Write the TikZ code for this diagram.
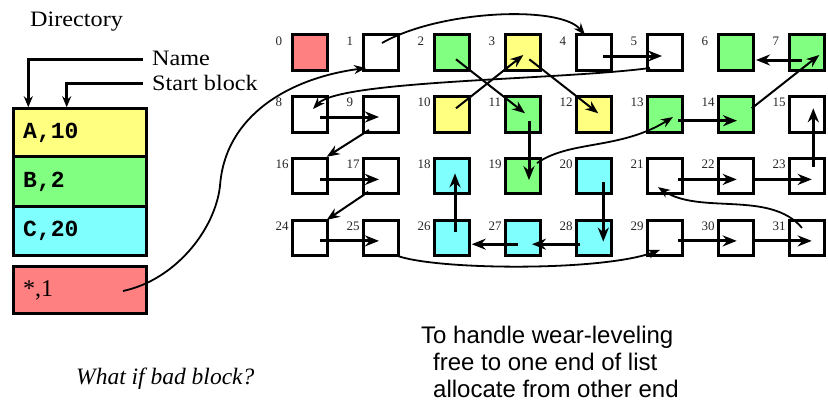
\documentclass[tikz,border=0pt]{standalone}
\usepackage{fontspec}
\setmainfont{Liberation Serif}
\newfontfamily\wserif[FakeStretch=1.1]{Liberation Serif}
\newfontfamily\lmono{Liberation Mono}
\newfontfamily\lsans{Liberation Sans}
\usetikzlibrary{arrows.meta,calc}
\definecolor{fy}{HTML}{FFFF80}
\definecolor{fg}{HTML}{80FF80}
\definecolor{fc}{HTML}{80FFFF}
\definecolor{fr}{HTML}{FF8080}
\begin{document}
\begin{tikzpicture}[x=1pt,y=-1pt,
  blk/.style={draw,line width=3pt,minimum size=35.5pt,inner sep=0pt,outer sep=0pt},
  num/.style={anchor=base west,inner sep=0pt,font=\fontsize{13}{13}\selectfont,text=black!85},
  thk/.style={line width=3pt,-{Stealth[length=14pt,width=11pt]}},
  thn/.style={line width=2pt,-{Stealth[length=13pt,width=10pt]}},
  crv/.style={line width=1.8pt,-{Stealth[length=12pt,width=9pt]}},
  dirbox/.style={draw,line width=3pt,minimum width=133.6pt,text width=113.6pt,inner xsep=10pt,inner ysep=0pt,align=left,outer sep=0pt},
  dirarr/.style={line width=2.5pt,-{Stealth[length=11pt,width=9pt]}},
  txt/.style={anchor=base west,inner sep=0pt}
]
\useasboundingbox (0,0) rectangle (828,402);

% blocks
\foreach \i/\c in {0/fr,1/white,2/fg,3/fy,4/white,5/white,6/fg,7/fg,
                   8/white,9/white,10/fy,11/fg,12/fy,13/fg,14/fg,15/white,
                   16/white,17/white,18/fc,19/fg,20/fc,21/white,22/white,23/white,
                   24/white,25/white,26/fc,27/fc,28/fc,29/white,30/white,31/white}{
  \pgfmathtruncatemacro\cc{mod(\i,8)}
  \pgfmathtruncatemacro\rr{\i/8}
  \node[blk,fill=\c] (b\i) at ({310+71*\cc},{52.5+61.8*\rr}) {};
  \node[num] (n\i) at ($(b\i.center)+(-34.5,-7.5)$) {\i};
}

% directory
\node[txt,font=\wserif\fontsize{22}{22}\selectfont] (dir) at (30,26.7) {Directory};
\node[txt,font=\wserif\fontsize{22}{22}\selectfont] (nm) at (152,65.7) {Name};
\node[txt,font=\wserif\fontsize{22}{22}\selectfont] (sb) at (152,90) {Start block};

\node[dirbox,fill=fy,minimum height=47.5pt,font=\lmono\bfseries\fontsize{23}{23}\selectfont] (dA) at (80,132.5) {A,10};
\node[dirbox,fill=fg,minimum height=50.4pt,font=\lmono\bfseries\fontsize{23}{23}\selectfont] (dB) at (80,181.5) {B,2};
\node[dirbox,fill=fc,minimum height=48.5pt,font=\lmono\bfseries\fontsize{23}{23}\selectfont] (dC) at (80,231) {C,20};
\node[dirbox,fill=fr,minimum height=47pt,font=\fontsize{24}{24}\selectfont] (dS) at (80,290) {*,1};

\draw[dirarr] ([xshift=-9pt,yshift=-1pt]nm.west) -| ([xshift=15.1pt,yshift=1.5pt]dA.north west);
\draw[dirarr] ([xshift=-9pt,yshift=-1pt]sb.west) -| ([xshift=53.5pt,yshift=1.5pt]dA.north west);

% thick arrows
\draw[thk] ([shift={(9,3.5)}]b4.center) -- ([shift={(-3,3.5)}]b5.center);
\draw[thk] ([shift={(-5,7.5)}]b7.center) -- ([shift={(20,7.5)}]b6.center);
\draw[thk] ([shift={(10,2.7)}]b8.center) -- ([shift={(-2,2.7)}]b9.center);
\draw[thk] ([shift={(6,7)}]b11.center) -- ([shift={(6,4)}]b19.center);
\draw[thk] ([shift={(13,6.4)}]b13.center) -- ([shift={(1,6.4)}]b14.center);
\draw[thk] ([shift={(10,3.3)}]b16.center) -- ([shift={(-2,3.3)}]b17.center);
\draw[thk] ([shift={(10,3)}]b24.center) -- ([shift={(-2,3)}]b25.center);
\draw[thk] ([shift={(3,-6.3)}]b26.center) -- ([shift={(3,-2.7)}]b18.center);
\draw[thk] ([shift={(-4.7,6.3)}]b27.center) -- ([shift={(19.7,6.3)}]b26.center);
\draw[thk] ([shift={(-14,6.3)}]b28.center) -- ([shift={(9,6.3)}]b27.center);
\draw[thk] ([shift={(9.3,5.7)}]b20.center) -- ([shift={(9.3,3.7)}]b28.center);
\draw[thk] ([shift={(13.3,3.3)}]b21.center) -- ([shift={(0.7,3.3)}]b22.center);
\draw[thk] ([shift={(17.3,3.3)}]b22.center) -- ([shift={(4.7,3.3)}]b23.center);
\draw[thk] ([shift={(6.3,-9.3)}]b23.center) -- ([shift={(6.3,-6)}]b15.center);
\draw[thk] ([shift={(13.3,3)}]b29.center) -- ([shift={(0.7,3)}]b30.center);
\draw[thk] ([shift={(17.3,3)}]b30.center) -- ([shift={(4.7,3)}]b31.center);

% thin arrows
\draw[thn] ([shift={(4,-6)}]b10.center) -- ([shift={(0.3,2.5)}]b3.center);
\draw[thn] ([shift={(6.3,6.8)}]b3.center) -- ([shift={(4.3,-1)}]b12.center);
\draw[thn] ([shift={(4,6.8)}]b2.center) -- ([shift={(2,-1)}]b11.center);
\draw[thn] ([shift={(15.7,-6)}]b14.center) -- ([shift={(12.3,2.5)}]b7.center);
\draw[thn] ([shift={(-12,15.7)}]b9.center) -- ([shift={(16.7,-19.3)}]b16.center);
\draw[thn] ([shift={(-12.7,15.7)}]b17.center) -- ([shift={(16.7,-18)}]b24.center);

% curves
\coordinate (m1) at (220,186);
\draw[crv] ([shift={(43,1)}]dS.center) .. controls (175,280) and (215,230) .. (m1)
   .. controls (225,115) and (290,78) .. ([shift={(-15,15.5)}]b1.center);
\draw[crv] ([shift={(1,-9.5)}]b1.center) .. controls (440,10) and (560,5) .. ([shift={(-9,-17.5)}]b4.center);
\draw[crv] ([shift={(-15,15.5)}]b5.center) .. controls (560,80) and (340,80) .. ([shift={(3,-5.3)}]b8.center);
\draw[crv] ([shift={(14,-13)}]b19.center) .. controls (570,140) and (620,150) .. ([shift={(8,2.7)}]b13.center);
\draw[crv] ([shift={(14,17)}]b25.center) .. controls (430,270) and (600,272) .. ([shift={(-5,12)}]b29.center);
\draw[crv] ([shift={(-5,-10)}]b31.center) .. controls (770,190) and (700,215) .. ([shift={(-7,11)}]b21.center);

% texts
\node[txt,font=\itshape\fontsize{23.5}{23.5}\selectfont] (bad) at (76,384) {What if bad block?};
\node[txt,font=\lsans\fontsize{24}{24}\selectfont] (t1) at (421,343) {To handle wear-leveling};
\node[txt,font=\lsans\fontsize{24}{24}\selectfont] (t2) at (433,370) {free to one end of list};
\node[txt,font=\lsans\fontsize{24}{24}\selectfont] (t3) at (433,397) {allocate from other end};
\end{tikzpicture}
\end{document}
